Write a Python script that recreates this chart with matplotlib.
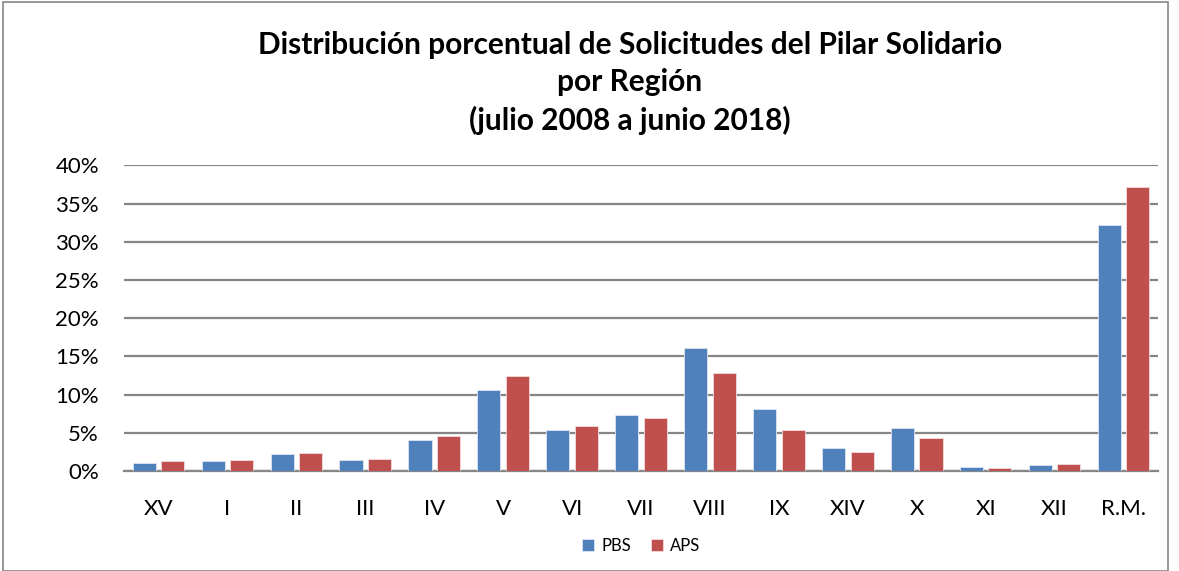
import matplotlib
matplotlib.use("Agg")
import matplotlib.pyplot as plt
import numpy as np
from matplotlib.patches import Rectangle
from matplotlib.ticker import FuncFormatter

regiones = ["XV", "I", "II", "III", "IV", "V", "VI", "VII", "VIII", "IX",
            "XIV", "X", "XI", "XII", "R.M."]
pbs = [1.05, 1.3, 2.2, 1.45, 4.05, 10.55, 5.35, 7.3, 16.05, 8.15,
       2.95, 5.6, 0.5, 0.8, 32.25]
aps = [1.25, 1.4, 2.3, 1.55, 4.55, 12.45, 5.9, 6.9, 12.85, 5.35,
       2.55, 4.3, 0.45, 0.95, 37.1]

plt.rcParams['font.family'] = ['Lato', 'DejaVu Sans']

fig = plt.figure(figsize=(11.79, 5.71), dpi=100)
ax = fig.add_axes([0.1052, 0.1751, 0.877, 0.5354])

x = np.arange(len(regiones))
ancho = 0.335
ax.bar(x - 0.207, pbs, ancho, color="#4F81BD", edgecolor="#DCE6F2",
       linewidth=0.6, label="PBS", zorder=3)
ax.bar(x + 0.207, aps, ancho, color="#C0504D", edgecolor="#F2DCDB",
       linewidth=0.6, label="APS", zorder=3)

ax.set_xlim(-0.5, len(regiones) - 0.5)
ax.set_ylim(0, 40)
ax.set_yticks(range(0, 41, 5))
ax.yaxis.set_major_formatter(FuncFormatter(lambda v, p: f"{int(v)}%"))
ax.set_xticks(x)
ax.set_xticklabels(regiones)
ax.tick_params(axis="both", length=0, labelsize=16, colors="black")
ax.tick_params(axis="y", pad=18)
ax.tick_params(axis="x", pad=20)

ax.grid(axis="y", color="#868686", linewidth=1.6, zorder=0)
for s in ["top", "right", "left"]:
    ax.spines[s].set_visible(False)
ax.spines["bottom"].set_color("#868686")
ax.spines["bottom"].set_linewidth(1.6)

fig.text(0.534, 0.855, "Distribución porcentual de Solicitudes del Pilar Solidario\n"
         "por Región\n(julio 2008 a junio 2018)",
         ha="center", va="center", fontsize=21.5, fontweight="bold",
         linespacing=1.39)

ax.legend(loc="upper center", bbox_to_anchor=(0.5, -0.17), ncol=2,
          frameon=False, fontsize=12, handlelength=0.75, handleheight=0.75,
          columnspacing=1.2, handletextpad=0.4)

# marco exterior
fig.patches.append(Rectangle((3 / 1179, 0), 1165 / 1179, 1 - 2 / 571,
                             transform=fig.transFigure, fill=False,
                             edgecolor="#868686", linewidth=1.2))

fig.savefig("out.png", dpi=100)
